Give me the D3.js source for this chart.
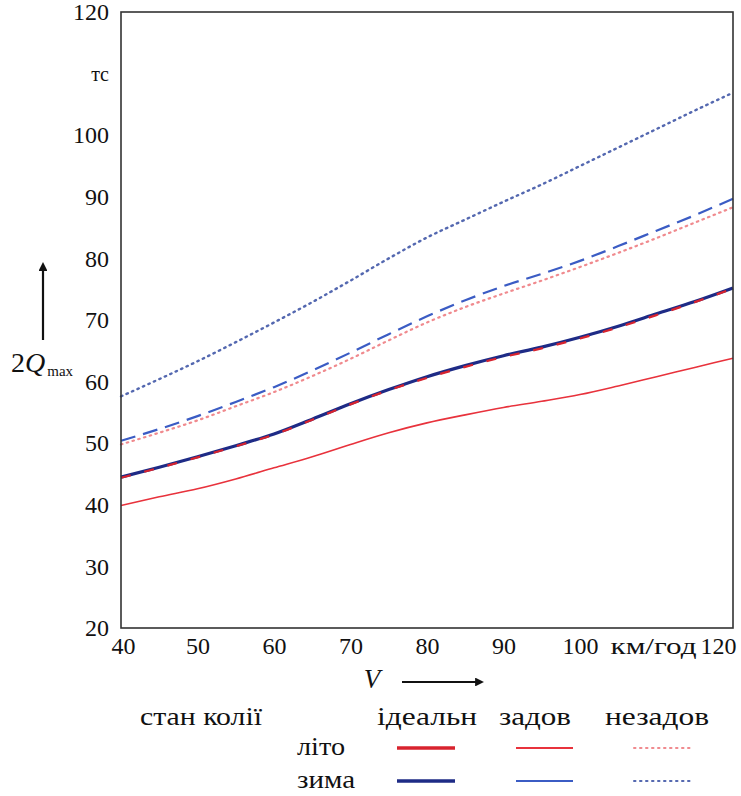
<!DOCTYPE html>
<html><head><meta charset="utf-8">
<script src="https://cdn.jsdelivr.net/npm/d3@7"></script>
<style>
body{margin:0;background:#fff;}
svg text{font-family:"Liberation Serif","Times New Roman",serif !important;fill:#111;}
</style></head>
<body><svg id="c" width="741" height="796"></svg>
<script>
// ---- data ----
const speeds = [40,45,50,55,60,65,70,75,80,85,90,95,100,105,110,115,120];
const summerIdeal   = [44.4,46.0,47.7,49.5,51.4,53.8,56.3,58.6,60.6,62.4,64.0,65.4,67.0,68.8,70.8,72.9,75.1];
const winterIdeal   = [44.5,46.1,47.8,49.6,51.5,53.9,56.4,58.7,60.8,62.6,64.2,65.6,67.2,69.0,71.0,73.0,75.2];
const summerSettled = [39.9,41.3,42.6,44.2,46.0,47.8,49.8,51.7,53.3,54.6,55.8,56.8,57.9,59.3,60.8,62.3,63.8];
const winterSettled = [50.4,52.3,54.4,56.7,59.1,61.8,64.7,67.7,70.6,73.2,75.5,77.5,79.6,82.0,84.5,87.0,89.7];
const summerUnsettled = [49.8,51.7,53.7,56.0,58.3,60.9,63.7,66.7,69.6,72.1,74.3,76.4,78.6,80.9,83.3,85.8,88.3];
const winterUnsettled = [57.6,60.4,63.3,66.4,69.6,72.9,76.4,80.0,83.4,86.3,89.2,92.0,95.0,98.0,101.0,104.0,106.9];

const xTicks = [40,50,60,70,80,90,100,110,120];
const xTickLabels = ["40","50","60","70","80","90","100","км/год","120"];
const yTicks = [20,30,40,50,60,70,80,90,100,110,120];
const yTickLabels = ["20","30","40","50","60","70","80","90","100","тс","120"];

const legendTitle = "стан колії";
const legendCols = ["ідеальн","задов","незадов"];
const legendRows = ["літо","зима"];

// ---- series styles ----
const series = [
  {v: summerSettled,   row:0, col:1, color:"#e8323c", w:1.6, dash:null},
  {v: summerUnsettled, row:0, col:2, color:"#f08a8e", w:2.2, dash:"1.5,4.5"},
  {v: winterUnsettled, row:1, col:2, color:"#5468b0", w:2.4, dash:"1.5,4.5"},
  {v: winterSettled,   row:1, col:1, color:"#3b5cc4", w:2.2, dash:"15,8"},
  {v: winterIdeal,     row:1, col:0, color:"#1e2b86", w:3.2, dash:null},
  {v: summerIdeal,     row:0, col:0, color:"#d8232e", w:2.2, dash:"10,14"},
];

const svg = d3.select("#c");
const L = 121, R = 733, T = 12, B = 628;
const x = d3.scaleLinear().domain([40,120]).range([L,R]);
const y = d3.scaleLinear().domain([20,120]).range([B,T]);

// lines
const line = d3.line().x(d=>x(d[0])).y(d=>y(d[1])).curve(d3.curveMonotoneX);
series.forEach(s=>{
  svg.append("path")
    .attr("d", line(speeds.map((sp,i)=>[sp,s.v[i]])))
    .attr("fill","none").attr("stroke",s.color).attr("stroke-width",s.w)
    .attr("stroke-dasharray",s.dash).attr("stroke-linecap", s.dash && s.dash.startsWith("1.5") ? "round" : "butt");
});

// frame
svg.append("rect").attr("x",L).attr("y",T).attr("width",R-L).attr("height",B-T)
  .attr("fill","none").attr("stroke","#333").attr("stroke-width",1.6);

// y axis labels
const yAxis = d3.axisLeft(y).tickValues(yTicks).tickSize(0).tickPadding(12)
  .tickFormat((d,i)=>yTickLabels[i]);
const gy = svg.append("g").attr("transform",`translate(${L},0)`).call(yAxis);
gy.select(".domain").remove();
gy.selectAll("text").attr("font-size",24);
gy.selectAll("text").filter((d,i)=>yTickLabels[i]==="тс").attr("font-size",20);

// x axis labels
const xAxis = d3.axisBottom(x).tickValues(xTicks).tickSize(0).tickPadding(9)
  .tickFormat((d,i)=>xTickLabels[i]);
const gx = svg.append("g").attr("transform",`translate(0,${B})`).call(xAxis);
gx.select(".domain").remove();
gx.selectAll("text").attr("font-size",24);
gx.selectAll("text").filter(d=>d===120).attr("text-anchor","end").attr("dx",3);
gx.selectAll("text").filter(d=>d===40).attr("dx",2);
gx.selectAll("text").filter(d=>d===110).attr("text-anchor","start").attr("x",610-x(110))
  .attr("textLength",86).attr("lengthAdjust","spacingAndGlyphs");

// y axis title with arrow
svg.append("defs").append("marker").attr("id","ah").attr("viewBox","0 0 10 10")
  .attr("refX",1).attr("refY",5).attr("markerWidth",4).attr("markerHeight",4).attr("orient","auto")
  .append("path").attr("d","M0,0L10,5L0,10Z").attr("fill","#111");
svg.append("line").attr("x1",43).attr("y1",340).attr("x2",43).attr("y2",270)
  .attr("stroke","#111").attr("stroke-width",2.2).attr("marker-end","url(#ah)");
const yt = svg.append("text").attr("x",11).attr("y",372).attr("font-size",28);
yt.append("tspan").text("2");
yt.append("tspan").attr("font-style","italic").text("Q");
yt.append("tspan").attr("font-size",15).attr("dy",4).attr("dx",2).text("max");

// x axis title with arrow
svg.append("text").attr("x",372).attr("y",688).attr("font-size",27).attr("font-style","italic")
  .attr("text-anchor","middle").text("V");
svg.append("line").attr("x1",402).attr("y1",682).attr("x2",476).attr("y2",682)
  .attr("stroke","#111").attr("stroke-width",2.2).attr("marker-end","url(#ah)");

// legend
const colStart = [377, 499, 605];
const colWidth = [100, 72, 104];
const colLine = [[397,455],[516,573],[634,694]];
const rowY = [748, 781];
const rowWidth = [48, 58];
svg.append("text").attr("x",140).attr("y",725).attr("font-size",26)
  .attr("textLength",122).attr("lengthAdjust","spacingAndGlyphs").text(legendTitle);
legendCols.forEach((c,i)=>svg.append("text").attr("x",colStart[i]).attr("y",725)
  .attr("font-size",26).attr("textLength",colWidth[i]).attr("lengthAdjust","spacingAndGlyphs").text(c));
legendRows.forEach((r,i)=>svg.append("text").attr("x",297).attr("y",rowY[i]+7)
  .attr("font-size",25).attr("textLength",rowWidth[i]).attr("lengthAdjust","spacingAndGlyphs").text(r));
series.forEach(s=>{
  const isIdeal = s.col===0;
  svg.append("line").attr("x1",colLine[s.col][0]).attr("x2",colLine[s.col][1])
    .attr("y1",rowY[s.row]).attr("y2",rowY[s.row])
    .attr("stroke",s.color).attr("stroke-width", isIdeal?3.6:(s.col===1?1.8:2))
    .attr("stroke-dasharray", s.col===2 ? "1.5,4.5" : null)
    .attr("stroke-linecap", s.col===2 ? "round" : "butt");
});
</script></body></html>
